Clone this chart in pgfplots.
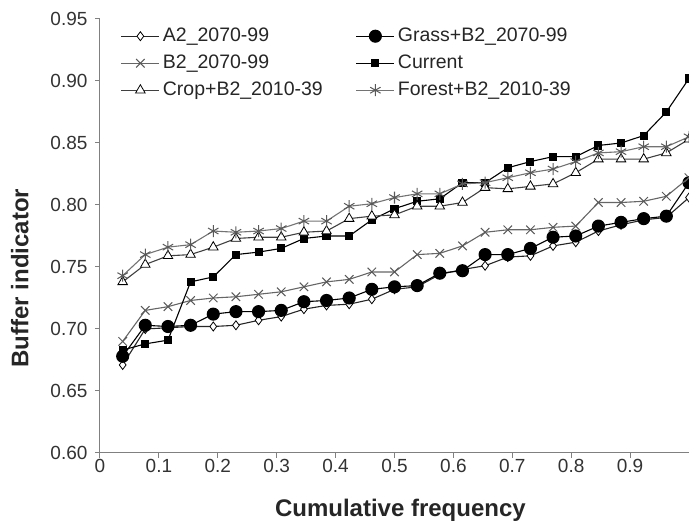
\documentclass[border=0pt]{standalone}
\usepackage{fontspec}
\setmainfont{Liberation Sans}
\usepackage{pgfplots}
\usepackage{pgfplotstable}
\pgfplotsset{compat=1.18}
\pgfplotstableread{
x      a2    grass  b2    cur   crop  forest
0.0385 0.671 0.678 0.690 0.683 0.738 0.743
0.0769 0.700 0.703 0.715 0.688 0.752 0.760
0.1154 0.701 0.702 0.718 0.691 0.759 0.766
0.1538 0.702 0.703 0.723 0.738 0.760 0.768
0.1923 0.702 0.712 0.725 0.742 0.766 0.779
0.2308 0.703 0.714 0.726 0.760 0.773 0.778
0.2692 0.707 0.714 0.728 0.762 0.774 0.779
0.3077 0.710 0.715 0.730 0.765 0.774 0.781
0.3462 0.716 0.722 0.734 0.773 0.778 0.787
0.3846 0.719 0.723 0.738 0.775 0.779 0.787
0.4231 0.720 0.725 0.740 0.775 0.789 0.799
0.4615 0.724 0.732 0.746 0.788 0.791 0.801
0.5000 0.732 0.734 0.746 0.797 0.792 0.806
0.5385 0.734 0.735 0.760 0.803 0.799 0.809
0.5769 0.744 0.745 0.761 0.805 0.799 0.809
0.6154 0.748 0.747 0.767 0.818 0.802 0.817
0.6538 0.751 0.760 0.778 0.818 0.814 0.818
0.6923 0.758 0.760 0.780 0.830 0.813 0.822
0.7308 0.759 0.765 0.780 0.835 0.815 0.826
0.7692 0.767 0.774 0.782 0.839 0.817 0.829
0.8077 0.770 0.775 0.783 0.839 0.826 0.835
0.8462 0.779 0.783 0.802 0.848 0.837 0.842
0.8846 0.784 0.786 0.802 0.850 0.837 0.843
0.9231 0.788 0.789 0.803 0.856 0.837 0.847
0.9615 0.790 0.791 0.807 0.875 0.842 0.847
1.0000 0.806 0.818 0.822 0.902 0.853 0.855
}\datatable
\begin{document}
\begin{tikzpicture}
\begin{axis}[
  at={(0pt,0pt)}, anchor=south west,
  scale only axis, width=589pt, height=434pt,
  xmin=0, xmax=1, ymin=0.60, ymax=0.95,
  axis lines=left,
  axis line style={-, draw=black!50, line width=1pt},
  xtick={0,0.1,0.2,0.3,0.4,0.5,0.6,0.7,0.8,0.9},
  ytick={0.60,0.65,0.70,0.75,0.80,0.85,0.90,0.95},
  tick align=outside,
  major tick length=5pt,
  tick style={draw=black!50, line width=1pt},
  ticklabel style={font=\fontsize{19}{22}\selectfont, text=black!80},
  /pgf/number format/assume math mode=true,
  yticklabel style={/pgf/number format/fixed, /pgf/number format/fixed zerofill, /pgf/number format/precision=2, xshift=-4pt},
  xticklabel style={/pgf/number format/fixed, /pgf/number format/precision=1, yshift=2pt},
  xlabel={Cumulative frequency},
  ylabel={Buffer indicator},
  xlabel style={font=\fontsize{24}{28}\selectfont\bfseries, text=black!85, at={(axis description cs:0.51,-0.131)}, anchor=center},
  ylabel style={font=\fontsize{24}{28}\selectfont\bfseries, text=black!85, at={(axis description cs:-0.136,0.403)}, anchor=center},
  clip marker paths=true,
  every axis plot/.append style={line width=1.1pt},
  legend columns=2,
  legend style={draw=none, fill=none, anchor=north west, at={(axis description cs:0.035,1)}, yshift=-5pt,
    font=\fontsize{19.5}{23}\selectfont, text=black!85, inner sep=0pt,
    nodes={inner xsep=3pt, inner ysep=2pt, text height=15pt, text depth=5pt},
    /tikz/every even column/.append style={column sep=30pt},
    row sep=3pt},
  legend cell align=left,
  legend image code/.code={\draw[mark repeat=2, mark phase=2, #1] plot coordinates {(0pt,0pt) (19pt,0pt) (38pt,0pt)};},
]
\addplot[black!85, mark=diamond*, mark size=4.5pt, mark options={solid, fill=white, draw=black, line width=0.8pt}] table[x=x, y=a2] {\datatable};
\addlegendentry{A2\_2070-99}
\addplot[black, mark=*, mark size=6pt, mark options={solid, fill=black, draw=black}] table[x=x, y=grass] {\datatable};
\addlegendentry{Grass+B2\_2070-99}
\addplot[black!60, mark=x, mark size=6pt, mark options={solid, draw=black!65, line width=1pt}] table[x=x, y=b2] {\datatable};
\addlegendentry{B2\_2070-99}
\addplot[black, mark=square*, mark size=3.5pt, mark options={solid, fill=black, draw=black}] table[x=x, y=cur] {\datatable};
\addlegendentry{Current}
\addplot[black!75, mark=triangle*, mark size=5.5pt, mark options={solid, fill=white, draw=black, line width=0.8pt}] table[x=x, y=crop] {\datatable};
\addlegendentry{Crop+B2\_2010-39}
\addplot[black!55, mark=asterisk, mark size=6pt, mark options={solid, draw=black!65, line width=1pt}] table[x=x, y=forest] {\datatable};
\addlegendentry{Forest+B2\_2010-39}
\end{axis}
\pgfresetboundingbox
\path[use as bounding box] (-100pt,-73pt) rectangle (589pt,453pt);
\end{tikzpicture}
\end{document}
